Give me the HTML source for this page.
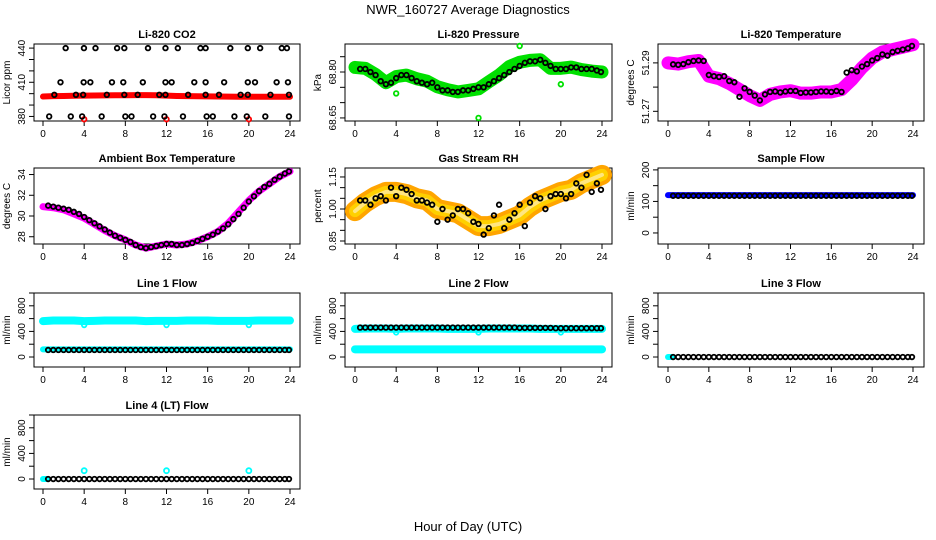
<!DOCTYPE html>
<html><head><meta charset="utf-8"><style>
html,body{margin:0;padding:0;background:#fff;}
svg{display:block;font-family:"Liberation Sans",sans-serif;}
</style></head><body>
<svg id="fig" width="936" height="540" viewBox="0 0 936 540">
<text x="468" y="14" text-anchor="middle" font-size="13">NWR_160727  Average Diagnostics</text>
<text x="468" y="531" text-anchor="middle" font-size="13">Hour of Day (UTC)</text>
</svg>
<script>
// ---- data arrays ----
const hours = [0,1,2,3,4,5,6,7,8,9,10,11,12,13,14,15,16,17,18,19,20,21,22,23,24];
const halfHours = [0.5,1,1.5,2,2.5,3,3.5,4,4.5,5,5.5,6,6.5,7,7.5,8,8.5,9,9.5,10,10.5,11,11.5,12,12.5,13,13.5,14,14.5,15,15.5,16,16.5,17,17.5,18,18.5,19,19.5,20,20.5,21,21.5,22,22.5,23,23.5,23.9];
const xTicks = [0,4,8,12,16,20,24];

const co2Band = [397.5,397.8,398,398.2,398.3,398.4,398.5,398.6,398.6,398.7,398.7,398.6,398.3,398,397.8,397.7,397.6,397.5,397.4,397.3,397.3,397.3,397.3,397.3,397.3];
const co2Hi = [2.2,3.98,5.1,7.2,7.9,10.2,11.9,13.1,15.3,15.8,18.2,19.9,21.1,23.2,23.7];
const co2Mid = [1.7,3.95,4.6,6.7,7.8,9.7,11.9,12.5,14.7,15.8,17.6,19.9,20.6,22.7,23.8];
const co2Low = [1.1,3.2,3.9,6.2,7.9,9.2,11.3,11.9,14.1,15.8,17.1,19.2,19.9,22.1,23.9];
const co2Min = [0.6,2.7,3.8,5.7,8,8.6,10.7,11.8,13.6,15.9,16.5,18.6,19.8,21.6,23.9];
const co2Outlier = [4,12,20];

const presBand = [68.815,68.812,68.792,68.765,68.785,68.790,68.778,68.770,68.752,68.742,68.735,68.740,68.745,68.768,68.790,68.818,68.832,68.838,68.840,68.812,68.812,68.816,68.808,68.803,68.800];
const presPts = [68.81,68.81,68.80,68.79,68.77,68.76,68.765,68.78,68.79,68.79,68.78,68.77,68.765,68.76,68.765,68.75,68.74,68.74,68.735,68.735,68.74,68.74,68.745,68.75,68.75,68.76,68.77,68.78,68.79,68.80,68.81,68.82,68.83,68.835,68.835,68.84,68.83,68.82,68.81,68.81,68.81,68.815,68.815,68.81,68.81,68.81,68.805,68.80];

const tempBand = [51.2900,51.2895,51.2905,51.2910,51.2845,51.2835,51.2815,51.2790,51.2765,51.2745,51.2770,51.2780,51.2785,51.2775,51.2775,51.2780,51.2780,51.2790,51.2830,51.2880,51.2920,51.2945,51.2955,51.2965,51.2975];
const tempPts = [51.2894,51.2892,51.2895,51.2903,51.2908,51.2910,51.2908,51.2850,51.2845,51.2842,51.2845,51.2825,51.2820,51.2760,51.2795,51.2780,51.2765,51.2745,51.2770,51.2780,51.2782,51.2778,51.2782,51.2784,51.2784,51.2776,51.2778,51.2778,51.2780,51.2782,51.2782,51.2780,51.2784,51.2780,51.2860,51.2870,51.2865,51.2885,51.2895,51.2910,51.2920,51.2935,51.2930,51.2945,51.2950,51.2955,51.2960,51.2970];

const ambBand = [30.9,30.8,30.6,30.2,29.8,29.2,28.6,28.1,27.7,27.2,26.9,27.1,27.3,27.2,27.3,27.6,28.0,28.5,29.3,30.4,31.5,32.4,33.1,33.8,34.3];
const ambPts = [31.0,30.9,30.8,30.7,30.6,30.4,30.2,29.9,29.6,29.3,29.0,28.7,28.4,28.1,27.9,27.7,27.5,27.2,27.0,26.9,27.0,27.1,27.2,27.3,27.3,27.2,27.2,27.3,27.4,27.6,27.8,28.0,28.2,28.5,28.8,29.2,29.7,30.2,30.8,31.4,31.9,32.4,32.8,33.1,33.5,33.8,34.1,34.3];

const rhBand = [0.99,1.03,1.06,1.08,1.08,1.07,1.05,1.04,1.00,0.99,0.98,0.95,0.92,0.92,0.93,0.95,0.97,1.01,1.04,1.06,1.08,1.09,1.12,1.14,1.16];
const rhPts = [1.04,1.04,1.02,1.05,1.06,1.04,1.10,1.06,1.10,1.09,1.07,1.04,1.04,1.03,1.02,0.94,1.00,0.95,0.97,1.00,1.00,0.98,0.94,0.93,0.88,0.91,0.97,1.02,0.91,0.95,0.98,1.02,0.92,1.03,1.06,1.05,1.00,1.06,1.07,1.07,1.05,1.07,1.12,1.10,1.16,1.08,1.12,1.09];

const sampleBand = [120,120,120,120,120,120,120,120,120,120,120,120,120,120,120,120,120,120,120,120,120,120,120,120,120];
const samplePts = [118,118,118,118,118,118,118,118,118,118,118,118,118,118,118,118,118,118,118,118,118,118,118,118,118,118,118,118,118,118,118,118,118,118,118,118,118,118,118,118,118,118,118,118,118,118,118,118];

const line1Hi = [560,570,570,570,560,565,570,570,570,570,560,565,565,565,570,570,570,565,565,565,565,570,570,570,570];
const line1Lo = [120,120,120,120,120,120,120,120,120,120,120,120,120,120,120,120,120,120,120,120,120,120,120,120,120];
const line1Pts = [110,110,110,110,110,110,110,110,110,110,110,110,110,110,110,110,110,110,110,110,110,110,110,110,110,110,110,110,110,110,110,110,110,110,110,110,110,110,110,110,110,110,110,110,110,110,110,110];
const line2Hi = [440,445,445,445,440,445,445,445,445,440,440,440,440,445,445,445,445,445,440,440,440,440,440,440,440];
const line2Lo = [120,120,120,120,120,120,120,120,120,120,120,120,120,120,120,120,120,120,120,120,120,120,120,120,120];
const line2Pts = [460,460,460,460,460,460,460,460,460,460,460,460,460,460,460,460,460,460,460,460,460,460,460,460,460,460,460,460,460,460,460,455,455,455,455,455,455,455,450,450,450,450,450,450,450,450,450,450];
const zeroPts = [0,0,0,0,0,0,0,0,0,0,0,0,0,0,0,0,0,0,0,0,0,0,0,0,0,0,0,0,0,0,0,0,0,0,0,0,0,0,0,0,0,0,0,0,0,0,0,0];
const line4Outliers = [4,12,20];
const line4OutVal = [130,130,130];

// ---- layout ----
const NS = "http://www.w3.org/2000/svg";
const fig = document.getElementById('fig');
const colL = [34,345,658], colR = [300,612,924], colX0 = [43,355,668], colX24 = [290,602,913];
const rowT = [44,168,293,415], rowB = [121,244,367,489];

function el(tag, attrs, parent){
  const e = document.createElementNS(NS, tag);
  for (const k in attrs) e.setAttribute(k, attrs[k]);
  (parent||fig).appendChild(e);
  return e;
}

function makePanel(col,row,title,ylab,ymin,ymax,ticks,labels,name){
  const g = el('g',{});
  
  
  const L=colL[col],R=colR[col],T=rowT[row],B=rowB[row];
  const sx = h => colX0[col] + (h/24)*(colX24[col]-colX0[col]);
  const sy = v => B - (v-ymin)/(ymax-ymin)*(B-T);
  const box = el('rect',{x:L,y:T,width:R-L,height:B-T,fill:'none',stroke:'#000','stroke-width':1},g);
  
  
  const t = el('text',{x:(L+R)/2,y:T-6,'text-anchor':'middle','font-size':11,'font-weight':'bold'},g);
  t.textContent = title;
  
  
  xTicks.forEach(h=>{
    el('line',{x1:sx(h),x2:sx(h),y1:B,y2:B+5,stroke:'#000'},g);
    const tl = el('text',{x:sx(h),y:B+16,'text-anchor':'middle','font-size':10},g);
    tl.textContent = h;
    
    
  });
  ticks.forEach(v=>{
    el('line',{x1:L,x2:L-5,y1:sy(v),y2:sy(v),stroke:'#000'},g);
  });
  labels.forEach(lb=>{
    const y = sy(lb.v);
    const yl = el('text',{x:L-9,y:y,'text-anchor':'middle','font-size':10,transform:'rotate(-90 '+(L-9)+' '+y+')'},g);
    yl.textContent = lb.t;
    
    
  });
  const yt = el('text',{x:L-24,y:(T+B)/2,'text-anchor':'middle','font-size':10,transform:'rotate(-90 '+(L-24)+' '+((T+B)/2)+')'},g);
  yt.textContent = ylab;
  
  
  return {g,sx,sy};
}

function band(p,xs,ys,color,w,name){
  const pts = xs.map((h,i)=>p.sx(h)+','+p.sy(ys[i])).join(' ');
  const pl = el('polyline',{points:pts,fill:'none',stroke:color,'stroke-width':w,'stroke-linejoin':'round','stroke-linecap':'round'},p.g);
  
  
}
function dots(p,xs,ys,color,r,name){
  xs.forEach((h,i)=>{
    const c = el('circle',{cx:p.sx(h),cy:p.sy(ys[i]),r:r,fill:'none',stroke:color,'stroke-width':1.8},p.g);
    
    
  });
}
const constArr = (xs,v)=>xs.map(()=>v);

let p = makePanel(0,0,'Li-820 CO2','Licor ppm',376,443.6,[380,390,400,410,420,430,440],[{v:380,t:'380'},{v:410,t:'410'},{v:440,t:'440'}],'co2');
band(p,hours,co2Band,'#f00',6,'co2-band');
dots(p,co2Outlier,[377.5,377.5,377.5],'#f00',2.3,'co2-outlier');
dots(p,co2Hi,constArr(co2Hi,440),'#000',2.3,'co2-point');
dots(p,co2Mid,constArr(co2Mid,410),'#000',2.3,'co2-point');
dots(p,co2Low,constArr(co2Low,399),'#000',2.3,'co2-point');
dots(p,co2Min,constArr(co2Min,380),'#000',2.3,'co2-point');

p = makePanel(1,0,'Li-820 Pressure','kPa',68.64,68.8915,[68.65,68.70,68.75,68.80,68.85],[{v:68.65,t:'68.65'},{v:68.80,t:'68.80'}],'pressure');
band(p,hours,presBand,'#00e000',13,'pressure-band');
dots(p,[4,12,16,20],[68.73,68.65,68.885,68.76],'#00e000',2.3,'pressure-outlier');
dots(p,halfHours,presPts,'#000',2.3,'pressure-point');

p = makePanel(2,0,'Li-820 Temperature','degrees C',51.266,51.2978,[51.27,51.28,51.29],[{v:51.27,t:'51.27'},{v:51.29,t:'51.29'}],'li820-temp');
band(p,hours,tempBand,'#ff00ff',13,'li820-temp-band');
dots(p,halfHours,tempPts,'#000',2.3,'li820-temp-point');

p = makePanel(0,1,'Ambient Box Temperature','degrees C',27.3,34.63,[28,30,32,34],[{v:28,t:'28'},{v:30,t:'30'},{v:32,t:'32'},{v:34,t:'34'}],'ambient');
band(p,hours,ambBand,'#ff00ff',7,'ambient-band');
dots(p,halfHours,ambPts,'#000',2.3,'ambient-point');

p = makePanel(1,1,'Gas Stream RH','percent',0.836,1.192,[0.85,0.90,0.95,1.00,1.05,1.10,1.15],[{v:0.85,t:'0.85'},{v:1.00,t:'1.00'},{v:1.15,t:'1.15'}],'rh');
band(p,hours,rhBand,'#ffa500',20,'rh-band');
band(p,hours,rhBand,'#ffd000',12,'rh-band-core');
band(p,hours,rhBand,'#ffe680',4,'rh-band-inner');
dots(p,halfHours,rhPts,'#000',2.3,'rh-point');

p = makePanel(2,1,'Sample Flow','ml/min',-35,206,[0,50,100,150,200],[{v:0,t:'0'},{v:100,t:'100'},{v:200,t:'200'}],'sample-flow');
band(p,hours,sampleBand,'#0000ff',6,'sample-flow-band');
dots(p,halfHours,samplePts,'#000',2.3,'sample-flow-point');

const flowTicks=[0,200,400,600,800,1000], flowLabels=[{v:0,t:'0'},{v:400,t:'400'},{v:800,t:'800'}];
p = makePanel(0,2,'Line 1 Flow','ml/min',-156,1000,flowTicks,flowLabels,'line1');
band(p,hours,line1Hi,'#00ffff',8,'line1-upper-band');
dots(p,[4,12,20],[500,500,500],'#00ffff',2.3,'line1-dip');
band(p,hours,line1Lo,'#00ffff',6,'line1-lower-band');
dots(p,halfHours,line1Pts,'#000',2.3,'line1-point');

p = makePanel(1,2,'Line 2 Flow','ml/min',-156,1000,flowTicks,flowLabels,'line2');
band(p,hours,line2Hi,'#00ffff',8,'line2-upper-band');
dots(p,[4,12,20],[385,385,385],'#00ffff',2.3,'line2-dip');
band(p,hours,line2Lo,'#00ffff',8,'line2-lower-band');
dots(p,halfHours,line2Pts,'#000',2.3,'line2-point');

p = makePanel(2,2,'Line 3 Flow','ml/min',-156,1000,flowTicks,flowLabels,'line3');
band(p,[0,0.4],[0,0],'#00ffff',6,'line3-band');
dots(p,halfHours,zeroPts,'#000',2.3,'line3-point');

p = makePanel(0,3,'Line 4 (LT) Flow','ml/min',-156,1000,flowTicks,flowLabels,'line4');
band(p,[0,0.4],[0,0],'#00ffff',6,'line4-band');
dots(p,line4Outliers,line4OutVal,'#00ffff',2.5,'line4-outlier');
dots(p,halfHours,zeroPts,'#000',2.3,'line4-point');
</script>
</body></html>
